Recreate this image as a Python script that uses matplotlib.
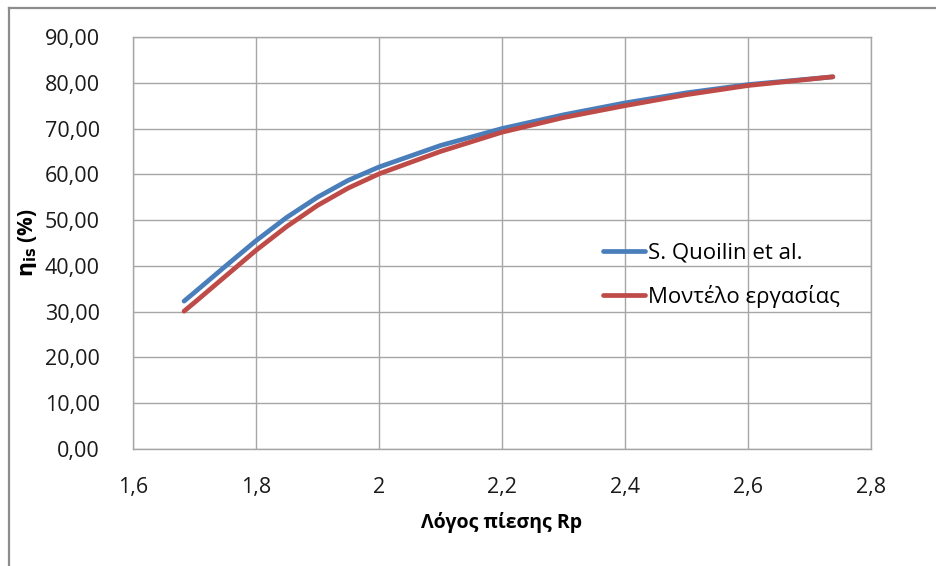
import matplotlib
matplotlib.use("Agg")
import matplotlib.pyplot as plt
from matplotlib.lines import Line2D
from matplotlib.ticker import FuncFormatter, MultipleLocator

plt.rcParams['font.family'] = ['Open Sans', 'DejaVu Sans']

# Pressure ratio Rp and isentropic efficiency (%)
rp = [1.683, 1.70, 1.75, 1.80, 1.85, 1.90, 1.95, 2.00, 2.10, 2.20, 2.30, 2.40, 2.50, 2.60, 2.738]
eta_quoilin = [32.3, 34.2, 39.9, 45.5, 50.6, 55.0, 58.7, 61.6, 66.3, 70.0, 73.0, 75.6, 77.8, 79.6, 81.3]
eta_model = [30.1, 32.0, 37.7, 43.4, 48.6, 53.2, 57.0, 60.1, 65.0, 69.2, 72.4, 75.0, 77.4, 79.4, 81.3]

series_labels = ["S. Quoilin et al.", "Μοντέλο εργασίας"]
x_label = "Λόγος πίεσης Rp"
y_label = r"$\mathbf{\eta_{is}}$ (%)"

W, H = 936, 566
fig = plt.figure(figsize=(W / 100, H / 100), dpi=100)
ax = fig.add_axes([133 / W, 1 - 449 / H, (871 - 133) / W, (449 - 37) / H])

ax.plot(rp, eta_quoilin, color="#4a7ebb", lw=3.4, solid_capstyle="round",
        solid_joinstyle="round", label=series_labels[0], zorder=3)
ax.plot(rp, eta_model, color="#be4b48", lw=3.4, solid_capstyle="round",
        solid_joinstyle="round", label=series_labels[1], zorder=4)

ax.set_xlim(1.6, 2.8)
ax.set_ylim(0, 90)
ax.xaxis.set_major_locator(MultipleLocator(0.2))
ax.yaxis.set_major_locator(MultipleLocator(10))


def comma(v, decimals):
    return f"{v:.{decimals}f}".replace(".", ",")


ax.xaxis.set_major_formatter(FuncFormatter(
    lambda v, p: str(int(round(v))) if abs(v - round(v)) < 1e-9 else comma(v, 1)))
ax.yaxis.set_major_formatter(FuncFormatter(lambda v, p: comma(v, 2)))

ax.grid(True, color="#a6a6a6", lw=1.0)
ax.set_axisbelow(True)
for s in ax.spines.values():
    s.set_color("#a6a6a6")
    s.set_linewidth(1.0)
ax.tick_params(length=0, labelsize=15.5, colors="#1a1a1a", pad=24)
ax.tick_params(axis="x", pad=20)

ax.set_xlabel(x_label, fontsize=14, fontweight="bold", labelpad=10)
ax.set_ylabel(y_label, fontsize=15, fontweight="bold")
ax.yaxis.set_label_coords(-0.128, 0.5)

ax.legend(loc="upper left", bbox_to_anchor=(0.625, 0.522), frameon=False, fontsize=16,
          handlelength=1.9, handletextpad=0.12, labelspacing=0.95, borderaxespad=0)

# chart border (left and top edges)
fig.add_artist(Line2D([9 / W, 9 / W], [0, 1 - 8 / H], color="#8c8c8c", lw=1.6, transform=fig.transFigure))
fig.add_artist(Line2D([9 / W, 1], [1 - 8 / H, 1 - 8 / H], color="#8c8c8c", lw=1.6, transform=fig.transFigure))

fig.savefig("out.png", dpi=100)
